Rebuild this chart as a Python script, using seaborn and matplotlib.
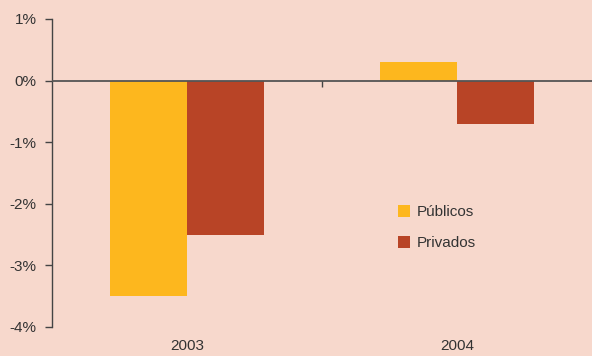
import matplotlib
matplotlib.use("Agg")
import matplotlib.pyplot as plt
import seaborn as sns
import pandas as pd

years = ["2003", "2004"]
series = ["Públicos", "Privados"]
publicos = [-3.5, 0.3]
privados = [-2.5, -0.7]
yticks = [-4, -3, -2, -1, 0, 1]
colors = ["#FDB71E", "#B84426"]
bg = "#F7D8CC"

df = pd.DataFrame({
    "year": years * 2,
    "serie": [series[0]] * 2 + [series[1]] * 2,
    "value": publicos + privados,
})

sns.set_style("white")
plt.rcParams["font.family"] = ["Liberation Sans Narrow", "Liberation Sans", "DejaVu Sans"]

fig = plt.figure(figsize=(5.92, 3.56), dpi=100, facecolor=bg)
ax = fig.add_axes([52 / 592, 1 - 327 / 356, 1 - 52 / 592, (327 - 19) / 356])
ax.set_facecolor(bg)

sns.barplot(data=df, x="year", y="value", hue="serie", palette=colors,
            width=0.574, saturation=1, ax=ax, legend=True,
            linewidth=0, edgecolor="none")

ax.set_xlim(-0.5, 1.5)
ax.set_ylim(-4, 1)
ax.set_yticks(yticks)
ax.set_yticklabels([f"{t}%" for t in yticks])
ax.set_xlabel("")
ax.set_ylabel("")

for s in ["top", "right", "bottom"]:
    ax.spines[s].set_visible(False)
ax.spines["left"].set_color("#444444")
ax.spines["left"].set_linewidth(1.0)

ax.axhline(0, color="#555555", lw=1.3, zorder=3)
ax.vlines(0.5, -0.1, 0, color="#444444", lw=1.0, zorder=3)

ax.tick_params(axis="y", direction="out", length=5, width=1, color="#444444",
               labelsize=11, labelcolor="#333333", pad=6, left=True)
ax.tick_params(axis="x", length=0, labelsize=11, labelcolor="#333333", pad=9)

leg = ax.legend(loc="upper left", bbox_to_anchor=(0.6156, 0.44), frameon=False,
                handlelength=0.8, handleheight=0.8, handletextpad=0.4,
                labelspacing=1.1, fontsize=11)
for t in leg.get_texts():
    t.set_color("#333333")
for h in leg.legend_handles:
    h.set_edgecolor("none")
    h.set_linewidth(0)

fig.savefig("out.png", dpi=100, facecolor=bg)
